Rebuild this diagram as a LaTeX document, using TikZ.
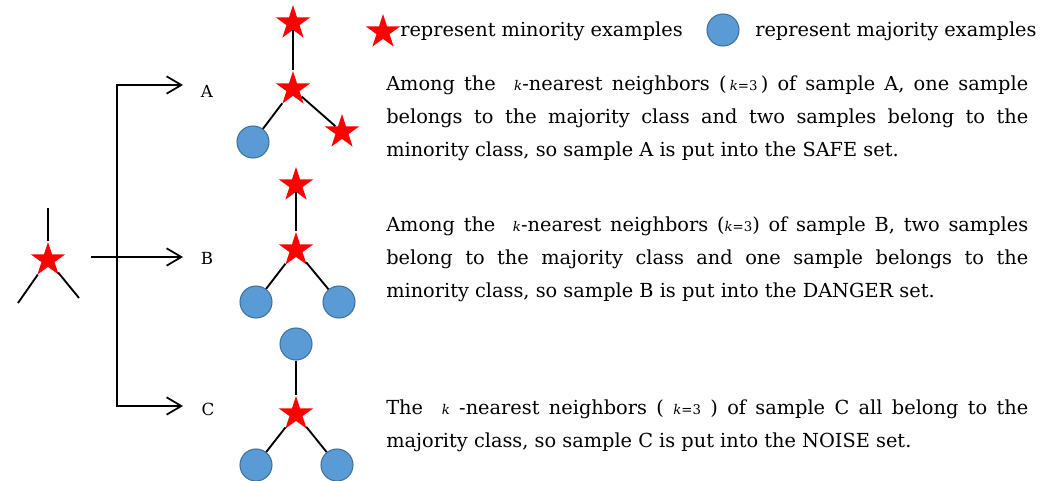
\documentclass[tikz,border=0pt]{standalone}
\usepackage{fontspec}
\setmainfont{DejaVu Serif}
\usetikzlibrary{shapes.geometric,arrows.meta}
\definecolor{majfill}{HTML}{5B9BD5}
\definecolor{majdraw}{HTML}{41719C}
\newcommand{\kk}{{\fontsize{10}{12}\selectfont\itshape k}}
\newcommand{\keq}{{\fontsize{10}{12}\selectfont\itshape k\/\upshape{=}3}}
\begin{document}
\begin{tikzpicture}[x=0.75pt,y=-0.75pt,
 minst/.style={star,star points=5,star point ratio=2.618,fill=red,draw=none,inner sep=0pt,minimum size=27pt},
 majc/.style={circle,fill=majfill,draw=majdraw,line width=0.8pt,inner sep=0pt,minimum size=24pt},
 link/.style={line width=1.4pt},
 arr/.style={line width=1.3pt,-{Straight Barb[length=11pt,width=13pt,line width=1.3pt]}},
 lbl/.style={font=\fontsize{12.5}{15}\selectfont,inner sep=0pt},
 legtxt/.style={font=\fontsize{14.5}{18}\selectfont,inner sep=0pt,anchor=base west},
 para/.style={font=\fontsize{14.5}{24.75}\selectfont,text width=481.5pt,align=justify,inner sep=0pt,anchor=north west},
]
\useasboundingbox (0,0) rectangle (1047,481);

% input sample
\node[minst] (s) at (48,260) {};
\coordinate (sTop) at (48,208);
\coordinate (sL) at (18,303);
\coordinate (sR) at (79,298);
\draw[link] (sTop) -- (s);
\draw[link] (s) -- (sL);
\draw[link] (s) -- (sR);

% bracket and arrows
\coordinate (brT) at (117,85);
\coordinate (brB) at (117,406);
\coordinate (bStart) at (91,257);
\coordinate (tipA) at (183,85);
\coordinate (tipB) at (183,257);
\coordinate (tipC) at (183,406);
\draw[arr] (brB) -- (brT) -- (tipA);
\draw[arr] (brT) -- (brB) -- (tipC);
\draw[arr] (bStart) -- (tipB);

\node[lbl] (lA) at (207,91) {A};
\node[lbl] (lB) at (207,258) {B};
\node[lbl] (lC) at (208,409) {C};

% group A
\node[minst] (a1) at (293,23) {};
\node[minst] (a0) at (293,89) {};
\node[minst] (a3) at (342,132) {};
\node[majc] (a2) at (253,142) {};
\draw[link] (a1) -- (a0);
\draw[link] (a0) -- (a2);
\draw[link] (a0) -- (a3);

% group B
\node[minst] (b1) at (296,185) {};
\node[minst] (b0) at (296,250) {};
\node[majc] (b2) at (256,302) {};
\node[majc] (b3) at (339,302) {};
\draw[link] (b1) -- (b0);
\draw[link] (b0) -- (b2);
\draw[link] (b0) -- (b3);

% group C
\node[majc] (c1) at (296,344) {};
\node[minst] (c0) at (296,414) {};
\node[majc] (c2) at (256,465) {};
\node[majc] (c3) at (337,465) {};
\draw[link] (c1) -- (c0);
\draw[link] (c0) -- (c2);
\draw[link] (c0) -- (c3);

% legend
\node[minst] (legS) at (383,32) {};
\node[legtxt] (legST) at (400,37) {represent minority examples};
\node[majc] (legC) at (723,30) {};
\node[legtxt] (legCT) at (755,37) {represent majority examples};

% paragraphs
\node[para] (pA) at (386,76) {Among the\ \ \kk-nearest neighbors (\,\keq\,) of sample A, one sample\linebreak belongs to the majority class and two samples belong to the\linebreak minority class, so sample A is put into the SAFE set.};
\node[para] (pB) at (386,217) {Among the\ \ \kk-nearest neighbors (\keq) of sample B, two samples\linebreak belong to the majority class and one sample belongs to the\linebreak minority class, so sample B is put into the DANGER set.};
\node[para] (pC) at (386,400) {The\ \ \kk\ -nearest neighbors (\ \keq\ ) of sample C all belong to the\linebreak majority class, so sample C is put into the NOISE set.};
\end{tikzpicture}
\end{document}
